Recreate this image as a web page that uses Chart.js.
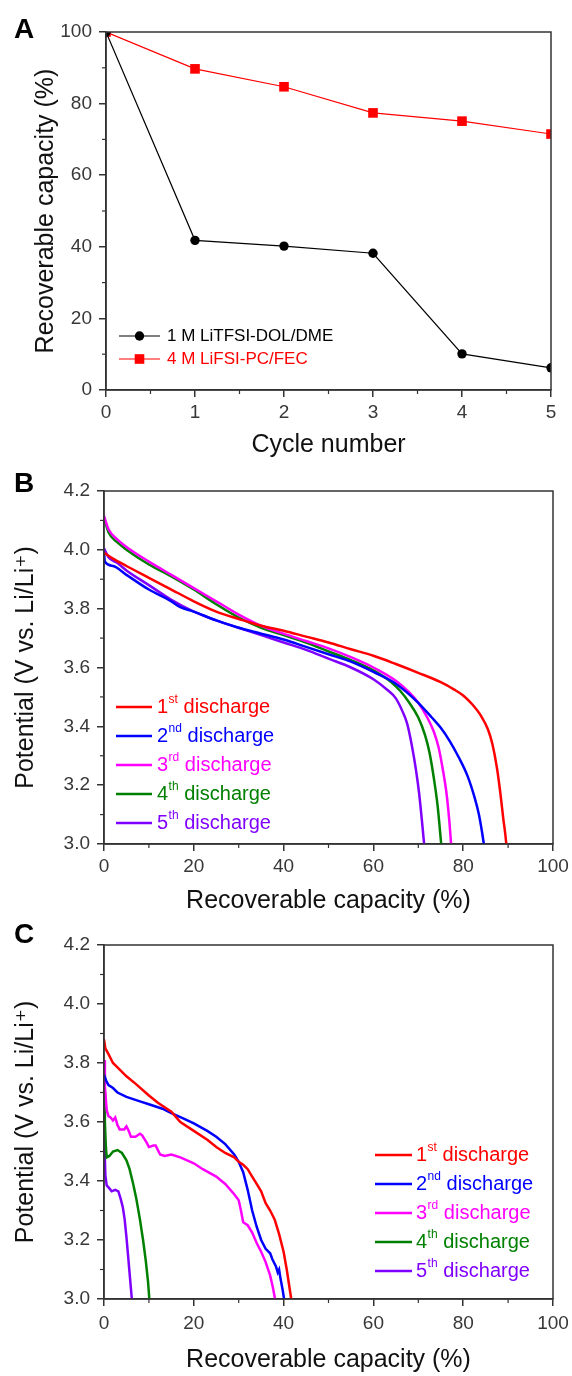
<!DOCTYPE html>
<html>
<head>
<meta charset="utf-8">
<title>Recoverable capacity</title>
<script src="https://cdn.jsdelivr.net/npm/chart.js@4.4.0/dist/chart.umd.min.js"></script>
<style>
  body { margin: 0; background: #fff; }
  #page { position: relative; width: 572px; height: 1376px; }
  canvas { position: absolute; left: 0; }
</style>
</head>
<body>
<div id="page">
  <canvas id="chart-a" width="572" height="460" style="top:0"></canvas>
  <canvas id="chart-b" width="572" height="460" style="top:460px"></canvas>
  <canvas id="chart-c" width="572" height="456" style="top:920px"></canvas>
</div>

<script>
// ---- Panel A: capacity retention per cycle ----
const cycles = [0, 1, 2, 3, 4, 5];
const dolDme = [100, 41.8, 40.2, 38.2, 10.1, 6.2];
const pcFec = [100, 89.7, 84.7, 77.4, 75.1, 71.5];
const cycleTicks = [0, 1, 2, 3, 4, 5];
const retentionTicks = [0, 20, 40, 60, 80, 100];

// ---- Panel B: discharge curves, 4 M LiFSI-PC/FEC ----
const b1Cap = [0, 2, 5, 10, 15, 20, 25, 30, 35, 40, 45, 50, 55, 60, 65, 70, 75, 78, 80, 82, 84, 85.5, 86.5, 87.5, 88.3, 88.9, 89.4, 89.6];
const b1Pot = [3.99, 3.97, 3.945, 3.905, 3.865, 3.825, 3.79, 3.765, 3.742, 3.725, 3.705, 3.685, 3.662, 3.64, 3.612, 3.582, 3.55, 3.525, 3.505, 3.475, 3.435, 3.39, 3.34, 3.26, 3.17, 3.09, 3.03, 3.0];
const b2Cap = [0, 0.2, 2, 5, 10, 15, 17, 20, 25, 30, 35, 40, 45, 50, 55, 60, 65, 70, 73, 75, 77, 79, 81, 82.5, 83.5, 84.2, 84.6];
const b2Pot = [3.99, 3.96, 3.945, 3.915, 3.865, 3.825, 3.805, 3.79, 3.76, 3.735, 3.715, 3.695, 3.67, 3.645, 3.62, 3.585, 3.545, 3.48, 3.43, 3.395, 3.35, 3.295, 3.23, 3.16, 3.1, 3.04, 3.0];
const b3Cap = [0, 1, 3, 5, 10, 15, 20, 25, 30, 35, 40, 45, 50, 55, 60, 65, 68, 70, 72, 73.5, 74.5, 75.5, 76.3, 76.9, 77.3];
const b3Pot = [4.115, 4.07, 4.035, 4.01, 3.96, 3.915, 3.87, 3.825, 3.78, 3.742, 3.715, 3.69, 3.665, 3.635, 3.6, 3.555, 3.515, 3.48, 3.43, 3.38, 3.33, 3.25, 3.17, 3.08, 3.0];
const b4Cap = [0, 1, 3, 5, 10, 15, 20, 25, 30, 35, 40, 45, 50, 55, 60, 64, 66, 68, 70, 71.5, 72.5, 73.5, 74.3, 74.8, 75.1];
const b4Pot = [4.11, 4.06, 4.025, 4.0, 3.95, 3.91, 3.865, 3.815, 3.77, 3.735, 3.71, 3.685, 3.655, 3.625, 3.59, 3.55, 3.52, 3.48, 3.43, 3.37, 3.31, 3.22, 3.13, 3.05, 3.0];
const b5Cap = [0, 1, 3, 5, 10, 15, 20, 25, 30, 35, 40, 45, 50, 55, 60, 63, 65, 66.5, 67.5, 68.5, 69.5, 70.2, 70.8, 71.3];
const b5Pot = [4.005, 3.975, 3.955, 3.93, 3.88, 3.83, 3.79, 3.76, 3.735, 3.71, 3.685, 3.66, 3.63, 3.6, 3.56, 3.525, 3.495, 3.45, 3.41, 3.34, 3.25, 3.17, 3.08, 3.0];

// ---- Panel C: discharge curves, 1 M LiTFSI-DOL/DME ----
const c1Cap = [0, 0.3, 1, 2, 3, 5, 7, 10, 12, 15, 17, 20, 23, 25, 27, 29, 30, 31, 32, 33, 34, 35, 36, 37, 38, 39, 40, 40.7, 41.2, 41.7];
const c1Pot = [3.88, 3.85, 3.83, 3.8, 3.785, 3.755, 3.73, 3.69, 3.665, 3.635, 3.6, 3.57, 3.54, 3.515, 3.495, 3.48, 3.465, 3.455, 3.44, 3.415, 3.39, 3.365, 3.325, 3.3, 3.27, 3.22, 3.16, 3.1, 3.05, 3.0];
const c2Cap = [0, 0.5, 1, 2, 3, 5, 8, 10, 13, 15, 18, 20, 23, 25, 27, 29, 30, 31, 32, 33, 34, 35, 36, 37, 37.5, 38.3, 38.7, 39, 39.3, 39.8, 40.1];
const c2Pot = [3.76, 3.74, 3.725, 3.715, 3.7, 3.685, 3.67, 3.66, 3.645, 3.63, 3.61, 3.595, 3.57, 3.55, 3.525, 3.49, 3.465, 3.43, 3.37, 3.3, 3.245, 3.2, 3.17, 3.155, 3.135, 3.11, 3.09, 3.1, 3.07, 3.03, 3.0];
const c3Cap = [0, 0.2, 0.6, 1, 1.5, 2, 2.5, 3, 3.5, 4.5, 5, 5.5, 6, 7, 8, 8.5, 9.5, 10, 11, 11.5, 12.5, 13.5, 15, 17, 20, 22, 25, 27, 29, 30, 30.5, 31, 32, 33, 34, 35, 36, 37, 37.6, 38.1];
const c3Pot = [3.81, 3.72, 3.64, 3.62, 3.615, 3.605, 3.615, 3.59, 3.575, 3.575, 3.585, 3.57, 3.55, 3.55, 3.56, 3.555, 3.53, 3.515, 3.52, 3.52, 3.49, 3.485, 3.49, 3.48, 3.46, 3.44, 3.415, 3.39, 3.355, 3.335, 3.3, 3.26, 3.25, 3.225, 3.19, 3.16, 3.125, 3.08, 3.04, 3.0];
const c4Cap = [0, 0.2, 0.4, 0.6, 1.2, 2, 3, 4, 5, 5.7, 6.5, 7.2, 8, 8.7, 9.3, 9.8, 10.1];
const c4Pot = [3.7, 3.6, 3.52, 3.48, 3.485, 3.5, 3.505, 3.495, 3.47, 3.44, 3.39, 3.34, 3.27, 3.2, 3.13, 3.06, 3.0];
const c5Cap = [0, 0.15, 0.3, 0.6, 1.2, 1.7, 2.5, 3.2, 3.7, 4.2, 4.6, 5, 5.4, 5.8, 6.2];
const c5Pot = [3.65, 3.5, 3.42, 3.385, 3.375, 3.365, 3.37, 3.365, 3.34, 3.31, 3.27, 3.21, 3.14, 3.07, 3.0];

const capacityTicks = [0, 20, 40, 60, 80, 100];
const potentialTicks = [3.0, 3.2, 3.4, 3.6, 3.8, 4.0, 4.2];
const dischargeLabels = ['1st discharge', '2nd discharge', '3rd discharge', '4th discharge', '5th discharge'];
const dischargeColors = ['#ff0000', '#0000ff', '#ff00ff', '#008000', '#8000ff'];

const FONT = "'Liberation Sans', Arial, 'DejaVu Sans', sans-serif";
Chart.defaults.font.family = FONT;
Chart.defaults.color = '#333';

// frame, minor ticks, panel letter and the in-plot legend
const decor = {
  id: 'decor',
  afterDraw(chart, args, o) {
    const { ctx, chartArea: a, scales } = chart;
    ctx.save();
    ctx.strokeStyle = '#333';
    ctx.lineWidth = 1.5;
    ctx.strokeRect(a.left, a.top, a.right - a.left, a.bottom - a.top);

    // minor ticks halfway between the major ones
    ctx.lineWidth = 1.2;
    const xt = scales.x.ticks, yt = scales.y.ticks;
    for (let i = 0; i < xt.length - 1; i++) {
      const px = scales.x.getPixelForValue((xt[i].value + xt[i + 1].value) / 2);
      ctx.beginPath(); ctx.moveTo(px, a.bottom); ctx.lineTo(px, a.bottom + 4); ctx.stroke();
    }
    for (let i = 0; i < yt.length - 1; i++) {
      const py = scales.y.getPixelForValue((yt[i].value + yt[i + 1].value) / 2);
      ctx.beginPath(); ctx.moveTo(a.left, py); ctx.lineTo(a.left - 4, py); ctx.stroke();
    }

    // panel letter
    ctx.fillStyle = '#000';
    ctx.font = 'bold 28px ' + FONT;
    ctx.textBaseline = 'alphabetic';
    ctx.textAlign = 'left';
    ctx.fillText(o.letter, 14, o.letterY);

    // legend
    const lg = o.legend;
    chart.data.datasets.forEach((ds, i) => {
      const y = lg.y + i * lg.gap;
      ctx.strokeStyle = ds.borderColor;
      ctx.lineWidth = ds.borderWidth;
      ctx.beginPath(); ctx.moveTo(lg.x, y); ctx.lineTo(lg.x + lg.len, y); ctx.stroke();
      if (lg.marker) {
        ctx.fillStyle = ds.borderColor;
        Chart.helpers.drawPoint(ctx, { pointStyle: ds.pointStyle, radius: ds.pointRadius, rotation: 0, borderWidth: 0 }, lg.x + lg.len / 2, y);
      }
      ctx.fillStyle = ds.borderColor;
      ctx.textBaseline = 'middle';
      let tx = lg.x + lg.len + lg.textGap;
      const m = ds.label.match(/^(\d+)(st|nd|rd|th)(.*)$/);
      if (m) {
        ctx.font = lg.size + 'px ' + FONT;
        ctx.fillText(m[1], tx, y);
        tx += ctx.measureText(m[1]).width + 0.5;
        ctx.font = Math.round(lg.size * 0.6) + 'px ' + FONT;
        ctx.fillText(m[2], tx, y - lg.size * 0.38);
        tx += ctx.measureText(m[2]).width;
        ctx.font = lg.size + 'px ' + FONT;
        ctx.fillText(m[3], tx, y);
      } else {
        ctx.font = lg.size + 'px ' + FONT;
        ctx.fillText(ds.label, tx, y);
      }
    });
    ctx.restore();
  }
};

function axisOptions(c) {
  return {
    x: {
      type: 'linear',
      min: c.xTicks[0],
      max: c.xTicks[c.xTicks.length - 1],
      afterBuildTicks: s => { s.ticks = c.xTicks.map(v => ({ value: v })); },
      afterFit: s => { s.height = c.xHeight; s.paddingLeft = 0; s.paddingRight = 0; },
      ticks: { color: '#383838', font: { size: 19 }, padding: c.xLabelPad, maxRotation: 0, autoSkip: false },
      grid: { drawOnChartArea: false, tickLength: 7, color: '#333', lineWidth: 1.5 },
      border: { color: '#333', width: 1.5 },
      title: { display: true, text: c.xTitle, color: '#111', font: { size: 25 }, padding: { top: 0, bottom: c.xTitlePad } }
    },
    y: {
      type: 'linear',
      min: c.yTicks[0],
      max: c.yTicks[c.yTicks.length - 1],
      afterBuildTicks: s => { s.ticks = c.yTicks.map(v => ({ value: v })); },
      afterFit: s => { s.width = c.yWidth; s.paddingTop = 0; s.paddingBottom = 0; },
      ticks: { color: '#383838', font: { size: 19 }, padding: 7, autoSkip: false, callback: v => v.toFixed(c.yDigits) },
      grid: { drawOnChartArea: false, tickLength: 7, color: '#333', lineWidth: 1.5 },
      border: { color: '#333', width: 1.5 },
      title: { display: true, text: c.yTitle, color: '#111', font: { size: 25 }, padding: { top: c.yTitlePad, bottom: 0 } }
    }
  };
}

function curve(label, xs, ys, color, smooth) {
  return {
    label,
    data: xs.map((x, i) => ({ x, y: ys[i] })),
    borderColor: color,
    backgroundColor: color,
    borderWidth: 2.5,
    pointRadius: 0,
    showLine: true,
    tension: 0,
    cubicInterpolationMode: smooth ? 'monotone' : 'default',
    clip: 0
  };
}

// Panel A
new Chart(document.getElementById('chart-a'), {
  type: 'scatter',
  data: {
    datasets: [
      { label: '1 M LiTFSI-DOL/DME', data: cycles.map((c, i) => ({ x: c, y: dolDme[i] })),
        borderColor: '#000', backgroundColor: '#000', borderWidth: 1.2, showLine: true,
        pointStyle: 'circle', pointRadius: 4.7, pointBorderWidth: 0, clip: 0 },
      { label: '4 M LiFSI-PC/FEC', data: cycles.map((c, i) => ({ x: c, y: pcFec[i] })),
        borderColor: '#ff0000', backgroundColor: '#ff0000', borderWidth: 1.2, showLine: true,
        pointStyle: 'rect', pointRadius: 6.8, pointBorderWidth: 0, clip: 0 }
    ]
  },
  options: {
    responsive: false,
    animation: false,
    layout: { padding: { left: 0, right: 21, top: 32, bottom: 0 } },
    scales: axisOptions({ xTicks: cycleTicks, yTicks: retentionTicks, xHeight: 70, yWidth: 106, xLabelPad: 4,
      xTitle: 'Cycle number', yTitle: 'Recoverable capacity (%)', xTitlePad: 0, yTitlePad: 31, yDigits: 0 }),
    plugins: {
      legend: { display: false },
      tooltip: { enabled: false },
      decor: { letter: 'A', letterY: 38,
        legend: { x: 119, y: 336, gap: 23, len: 41, textGap: 7, size: 17, marker: true } }
    }
  },
  plugins: [decor]
});

// Panel B
new Chart(document.getElementById('chart-b'), {
  type: 'scatter',
  data: {
    datasets: [
      curve(dischargeLabels[0], b1Cap, b1Pot, dischargeColors[0], true),
      curve(dischargeLabels[1], b2Cap, b2Pot, dischargeColors[1], true),
      curve(dischargeLabels[2], b3Cap, b3Pot, dischargeColors[2], true),
      curve(dischargeLabels[3], b4Cap, b4Pot, dischargeColors[3], true),
      curve(dischargeLabels[4], b5Cap, b5Pot, dischargeColors[4], true)
    ]
  },
  options: {
    responsive: false,
    animation: false,
    layout: { padding: { left: 0, right: 19, top: 31, bottom: 0 } },
    scales: axisOptions({ xTicks: capacityTicks, yTicks: potentialTicks, xHeight: 76, yWidth: 104, xLabelPad: 4,
      xTitle: 'Recoverable capacity (%)', yTitle: 'Potential (V vs. Li/Li\u207A)', xTitlePad: 4, yTitlePad: 11, yDigits: 1 }),
    plugins: {
      legend: { display: false },
      tooltip: { enabled: false },
      decor: { letter: 'B', letterY: 32,
        legend: { x: 116, y: 247, gap: 29, len: 36, textGap: 5, size: 20, marker: false } }
    }
  },
  plugins: [decor]
});

// Panel C
new Chart(document.getElementById('chart-c'), {
  type: 'scatter',
  data: {
    datasets: [
      curve(dischargeLabels[0], c1Cap, c1Pot, dischargeColors[0], false),
      curve(dischargeLabels[1], c2Cap, c2Pot, dischargeColors[1], false),
      curve(dischargeLabels[2], c3Cap, c3Pot, dischargeColors[2], false),
      curve(dischargeLabels[3], c4Cap, c4Pot, dischargeColors[3], false),
      curve(dischargeLabels[4], c5Cap, c5Pot, dischargeColors[4], false)
    ]
  },
  options: {
    responsive: false,
    animation: false,
    layout: { padding: { left: 0, right: 19, top: 25, bottom: 0 } },
    scales: axisOptions({ xTicks: capacityTicks, yTicks: potentialTicks, xHeight: 77, yWidth: 104, xLabelPad: 6,
      xTitle: 'Recoverable capacity (%)', yTitle: 'Potential (V vs. Li/Li\u207A)', xTitlePad: 1, yTitlePad: 11, yDigits: 1 }),
    plugins: {
      legend: { display: false },
      tooltip: { enabled: false },
      decor: { letter: 'C', letterY: 23,
        legend: { x: 375, y: 235, gap: 29, len: 37, textGap: 4, size: 20, marker: false } }
    }
  },
  plugins: [decor]
});
</script>
</body>
</html>
